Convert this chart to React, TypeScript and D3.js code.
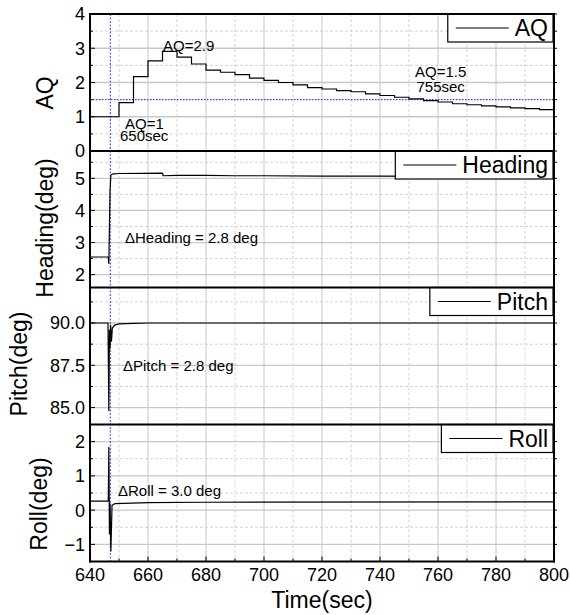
import React, { useEffect, useRef } from "react";
import * as d3 from "d3";

// x axis
const xMajor = [640, 660, 680, 700, 720, 740, 760, 780, 800];
const xMinor = [650, 670, 690, 710, 730, 750, 770, 790];

// AQ (step every 5 sec)
const aqTime = [640, 645, 650, 655, 660, 665, 670, 675, 680, 685, 690, 695, 700, 705, 710, 715, 720,
  725, 730, 735, 740, 745, 750, 755, 760, 765, 770, 775, 780, 785, 790, 795, 800];
const aqValue = [1.0, 1.0, 1.41, 2.17, 2.63, 2.91, 2.74, 2.54, 2.36, 2.3, 2.23, 2.13, 2.06, 2.0, 1.93, 1.85, 1.81,
  1.76, 1.73, 1.67, 1.62, 1.57, 1.52, 1.47, 1.43, 1.38, 1.35, 1.32, 1.29, 1.26, 1.24, 1.21, 1.21];

const headingTime = [640, 646.3, 646.5, 646.9, 647.2, 648, 650, 665, 665.2, 670, 680, 690, 700, 720, 740, 760, 780, 800];
const headingValue = [2.55, 2.55, 2.33, 4.6, 5.1, 5.14, 5.15, 5.16, 5.08, 5.09, 5.09, 5.08, 5.08, 5.07, 5.07, 5.06, 5.06, 5.06];

const pitchTime = [640, 646.2, 646.5, 646.7, 646.9, 647.1, 647.4, 647.7, 648.5, 650, 655, 660, 800];
const pitchValue = [90.0, 90.0, 84.8, 89.6, 88.5, 89.9, 88.9, 89.7, 89.88, 89.95, 89.98, 90.0, 90.0];

const rollTime = [640, 646.3, 646.5, 646.7, 646.9, 647.2, 647.6, 648.6, 660, 680, 800];
const rollValue = [0.26, 0.26, 1.84, -0.71, 0.2, -1.21, 0.14, 0.19, 0.22, 0.23, 0.24];

// y ticks
const aqMajor = [0, 1, 2, 3, 4];
const aqMinor = [0.5, 1.5, 2.5, 3.5];
const headingMajor = [2, 3, 4, 5];
const headingMinor = [2.5, 3.5, 4.5, 5.5];
const pitchMajor = [85, 87.5, 90];
const pitchMinor = [86.25, 88.75, 91.25];
const rollMajor = [-1, 0, 1, 2];
const rollMinor = [-0.5, 0.5, 1.5];

const eventTime = 647;
const aqThreshold = 1.5;

const FONT = "'Liberation Sans', Arial, Helvetica, sans-serif";

export default function App() {
  const svgRef = useRef<SVGSVGElement>(null);

  useEffect(() => {
    const W = 571, H = 615;
    const left = 90, right = 554;
    const svg = d3.select(svgRef.current);
    svg.selectAll("*").remove();
    svg.attr("width", W).attr("height", H);

    const x = d3.scaleLinear().domain([640, 800]).range([left, right]);

    const panels = [
      { name: "AQ", title: "AQ", top: 14, bottom: 151, domain: [0, 4], major: aqMajor, minor: aqMinor,
        fmt: d3.format("d"), time: aqTime, value: aqValue, step: true, titleX: 53, titleY: 93 },
      { name: "Heading", title: "Heading(deg)", top: 151, bottom: 287.5, domain: [1.6, 5.85], major: headingMajor, minor: headingMinor,
        fmt: d3.format("d"), time: headingTime, value: headingValue, step: false, titleX: 53, titleY: 228 },
      { name: "Pitch", title: "Pitch(deg)", top: 287.5, bottom: 424.5, domain: [84, 92.1], major: pitchMajor, minor: pitchMinor,
        fmt: d3.format(".1f"), time: pitchTime, value: pitchValue, step: false, titleX: 27, titleY: 364 },
      { name: "Roll", title: "Roll(deg)", top: 424.5, bottom: 561.5, domain: [-1.5, 2.5], major: rollMajor, minor: rollMinor,
        fmt: d3.format("d"), time: rollTime, value: rollValue, step: false, titleX: 47, titleY: 504 },
    ];

    const grid = "#c8c8c8";
    const scales: any[] = [];

    panels.forEach(p => {
      const y = d3.scaleLinear().domain(p.domain).range([p.bottom, p.top]);
      scales.push(y);
      const g = svg.append("g");

      // vertical grid
      g.selectAll(".vmaj").data(xMajor.slice(1, -1)).enter().append("line")
        .attr("x1", d => x(d)).attr("x2", d => x(d)).attr("y1", p.top).attr("y2", p.bottom)
        .attr("stroke", grid).attr("stroke-width", 1);
      g.selectAll(".vmin").data(xMinor).enter().append("line")
        .attr("x1", d => x(d)).attr("x2", d => x(d)).attr("y1", p.top).attr("y2", p.bottom)
        .attr("stroke", grid).attr("stroke-width", 0.8).attr("stroke-dasharray", "3,2");
      // horizontal grid
      g.selectAll(".hmaj").data(p.major.filter(v => y(v) > p.top + 1 && y(v) < p.bottom - 1)).enter().append("line")
        .attr("x1", left).attr("x2", right).attr("y1", d => y(d)).attr("y2", d => y(d))
        .attr("stroke", grid).attr("stroke-width", 1.3);
      g.selectAll(".hmin").data(p.minor).enter().append("line")
        .attr("x1", left).attr("x2", right).attr("y1", d => y(d)).attr("y2", d => y(d))
        .attr("stroke", grid).attr("stroke-width", 0.8).attr("stroke-dasharray", "3,2");

      // y ticks (inside left, outside right)
      g.selectAll(".tl").data(p.major.concat(p.minor)).enter().append("line")
        .attr("x1", left).attr("x2", d => left + (p.major.includes(d) ? 5 : 3))
        .attr("y1", d => y(d)).attr("y2", d => y(d)).attr("stroke", "#000").attr("stroke-width", 1);
      g.selectAll(".tr").data(p.major.concat(p.minor)).enter().append("line")
        .attr("x1", right).attr("x2", right + 3)
        .attr("y1", d => y(d)).attr("y2", d => y(d)).attr("stroke", "#000").attr("stroke-width", 1);

      // tick labels
      g.selectAll(".yl").data(p.major).enter().append("text")
        .attr("x", left - 5).attr("y", d => y(d)).attr("dy", "0.36em")
        .attr("text-anchor", "end").attr("font-family", FONT).attr("font-size", 18)
        .text(d => p.fmt(d));

      // axis title
      g.append("text")
        .attr("transform", `translate(${p.titleX},${p.titleY}) rotate(-90)`)
        .attr("text-anchor", "middle").attr("font-family", FONT).attr("font-size", 23)
        .text(p.title);
    });

    // blue reference lines
    svg.append("line")
      .attr("x1", x(eventTime)).attr("x2", x(eventTime)).attr("y1", 14).attr("y2", 561.5)
      .attr("stroke", "#2020ff").attr("stroke-width", 0.9).attr("stroke-dasharray", "2,1.5");
    svg.append("line")
      .attr("x1", left).attr("x2", right).attr("y1", scales[0](aqThreshold)).attr("y2", scales[0](aqThreshold))
      .attr("stroke", "#2020ff").attr("stroke-width", 1).attr("stroke-dasharray", "1.5,1.5");

    // data lines
    panels.forEach((p, i) => {
      const y = scales[i];
      const pts = p.time.map((t, j) => [t, p.value[j]] as [number, number]);
      const line = d3.line<[number, number]>()
        .x(d => x(d[0])).y(d => y(d[1]))
        .curve(p.step ? d3.curveStepAfter : d3.curveLinear);
      svg.append("path").datum(pts).attr("d", line)
        .attr("fill", "none").attr("stroke", "#000").attr("stroke-width", 1.2);
    });

    // legends
    panels.forEach(p => {
      const lg = svg.append("g");
      const txt = lg.append("text").attr("font-family", FONT).attr("font-size", 23).text(p.name);
      const tw = (txt.node() as SVGTextElement).getComputedTextLength();
      const bw = 8 + 53 + 6 + tw + 5;
      const bx = 553 - bw;
      const bh = 28;
      lg.insert("rect", "text")
        .attr("x", bx).attr("y", p.top).attr("width", bw).attr("height", bh)
        .attr("fill", "#fff").attr("stroke", "#000").attr("stroke-width", 1.2);
      lg.append("line")
        .attr("x1", bx + 8).attr("x2", bx + 61).attr("y1", p.top + bh / 2).attr("y2", p.top + bh / 2)
        .attr("stroke", "#000").attr("stroke-width", 1.2);
      txt.attr("x", bx + 67).attr("y", p.top + bh / 2).attr("dy", "0.36em");
    });

    // panel borders
    [14, 151, 287.5, 424.5, 561.5].forEach(yy => {
      svg.append("line").attr("x1", left - 1).attr("x2", right + 1).attr("y1", yy).attr("y2", yy)
        .attr("stroke", "#000").attr("stroke-width", 2);
    });
    [left, right].forEach(xx => {
      svg.append("line").attr("x1", xx).attr("x2", xx).attr("y1", 13).attr("y2", 562.5)
        .attr("stroke", "#000").attr("stroke-width", 2);
    });

    // bottom x axis ticks & labels
    svg.selectAll(".xt").data(xMajor.concat(xMinor)).enter().append("line")
      .attr("x1", d => x(d)).attr("x2", d => x(d)).attr("y1", 561.5)
      .attr("y2", d => 561.5 - (xMajor.includes(d) ? 5 : 3))
      .attr("stroke", "#000").attr("stroke-width", 1);
    svg.selectAll(".xl").data(xMajor).enter().append("text")
      .attr("x", d => x(d)).attr("y", 581).attr("text-anchor", "middle")
      .attr("font-family", FONT).attr("font-size", 18).text(d => d);
    svg.append("text").attr("x", (left + right) / 2).attr("y", 608).attr("text-anchor", "middle")
      .attr("font-family", FONT).attr("font-size", 23).text("Time(sec)");

    // annotations
    const notes = [
      { text: "AQ=2.9", x: 163, y: 51 },
      { text: "AQ=1", x: 125, y: 129 },
      { text: "650sec", x: 120, y: 141 },
      { text: "AQ=1.5", x: 415, y: 77 },
      { text: "755sec", x: 416.5, y: 92 },
      { text: "\u0394Heading = 2.8 deg", x: 125, y: 243 },
      { text: "\u0394Pitch = 2.8 deg", x: 123, y: 371 },
      { text: "\u0394Roll = 3.0 deg", x: 118, y: 496 },
    ];
    svg.selectAll(".note").data(notes).enter().append("text")
      .attr("x", d => d.x).attr("y", d => d.y)
      .attr("font-family", FONT).attr("font-size", 15).text(d => d.text);
  }, []);

  return (
    <div style={{ position: "absolute", left: 0, top: 0 }}>
      <svg ref={svgRef} style={{ display: "block" }}></svg>
    </div>
  );
}
